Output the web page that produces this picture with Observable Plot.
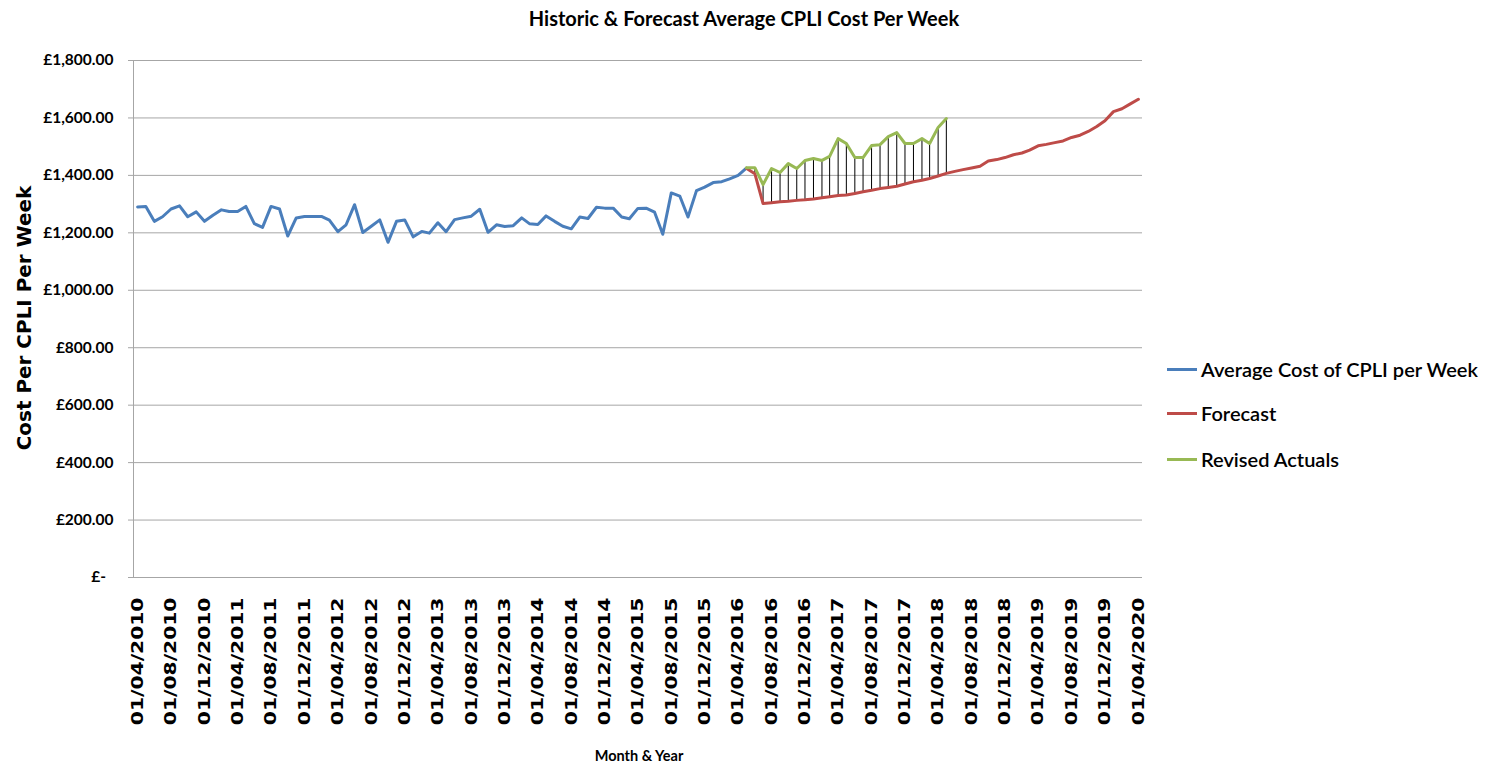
<!DOCTYPE html>
<html>
<head>
<meta charset="utf-8">
<script src="https://cdn.jsdelivr.net/npm/d3@7"></script>
<script src="https://cdn.jsdelivr.net/npm/@observablehq/plot@0.6"></script>
<style>
  html, body { margin: 0; padding: 0; background: #fff; overflow: hidden; }
  #wrap { position: relative; width: 1488px; height: 766px; }
  #chart { position: absolute; left: 0; top: 0; }
  .title { position: absolute; left: 0; top: 0; width: 1488px; line-height: 36px; text-align: center;
           font-family: Lato, sans-serif; font-weight: bold; font-size: 20px; color: #000; }
  .ylab { position: absolute; left: 24px; top: 318px; white-space: nowrap;
          font-family: "DejaVu Sans", sans-serif; font-weight: bold; font-size: 19px; color: #000;
          transform: translate(-50%, -50%) rotate(-90deg) scale(1.05, 1); }
  .xlab { position: absolute; left: 639px; top: 755px; white-space: nowrap;
          font-family: Lato, sans-serif; font-weight: bold; font-size: 14.5px; color: #000;
          transform: translate(-50%, -50%); }
  .leg { position: absolute; left: 1167px; white-space: nowrap; font-family: Lato, sans-serif;
         font-weight: 600; font-size: 20px; color: #000; transform: translateY(-50%); display: flex; align-items: center; }
  .leg span.sw { display: inline-block; width: 30px; height: 3px; margin-right: 4px; }
</style>
</head>
<body>
<div id="wrap">
  <div id="chart"></div>
  <div class="title">Historic &amp; Forecast Average CPLI Cost Per Week</div>
  <div class="ylab">Cost Per CPLI Per Week</div>
  <div class="xlab">Month &amp; Year</div>
  <div id="legend"></div>
</div>
<script>
// ---- data ----
const seriesNames = ["Average Cost of CPLI per Week", "Forecast", "Revised Actuals"];
const seriesColors = ["#4a7ebb", "#be4b48", "#98b954"];

// monthly, starting 01/04/2010
const historicStart = "01/04/2010";
const historic = [
  1290, 1292, 1240, 1256, 1283, 1294, 1256, 1273, 1240, 1261, 1280, 1274,
  1274, 1292, 1232, 1219, 1292, 1283, 1189, 1252, 1257, 1257, 1257, 1244,
  1204, 1228, 1298, 1201, 1223, 1245, 1167, 1240, 1245, 1186, 1205, 1199,
  1235, 1204, 1246, 1252, 1258, 1282, 1202, 1228, 1222, 1225, 1252, 1232,
  1229, 1259, 1240, 1223, 1214, 1255, 1250, 1289, 1286, 1286, 1255, 1249,
  1285, 1286, 1272, 1195, 1339, 1328, 1255, 1347, 1359, 1375, 1378, 1388,
  1400, 1425
];

// monthly, starting 01/05/2016
const forecastStart = "01/05/2016";
const forecast = [
  1425, 1406, 1302, 1305, 1308, 1310, 1313, 1315, 1318, 1322, 1326, 1330,
  1332, 1337, 1343, 1348, 1354, 1358, 1362, 1370, 1378, 1383, 1389, 1398,
  1407, 1414, 1420, 1426, 1432, 1450, 1455, 1462, 1472, 1478, 1488, 1503,
  1508, 1514, 1520, 1532, 1540, 1553, 1570, 1590, 1622, 1632, 1648, 1665
];

// monthly, starting 01/05/2016
const revisedStart = "01/05/2016";
const revised = [
  1427, 1427, 1368, 1424, 1410, 1441, 1424, 1452, 1459, 1452, 1466, 1528,
  1511, 1462, 1462, 1504, 1507, 1535, 1549, 1511, 1511, 1528, 1511, 1567, 1598
];

const xTickLabels = [
  "01/04/2010","01/08/2010","01/12/2010","01/04/2011","01/08/2011","01/12/2011",
  "01/04/2012","01/08/2012","01/12/2012","01/04/2013","01/08/2013","01/12/2013",
  "01/04/2014","01/08/2014","01/12/2014","01/04/2015","01/08/2015","01/12/2015",
  "01/04/2016","01/08/2016","01/12/2016","01/04/2017","01/08/2017","01/12/2017",
  "01/04/2018","01/08/2018","01/12/2018","01/04/2019","01/08/2019","01/12/2019",
  "01/04/2020"
];
const yTicks = [0, 200, 400, 600, 800, 1000, 1200, 1400, 1600, 1800];

// ---- build tables ----
const parse = d3.utcParse("%d/%m/%Y");
const fmt = d3.utcFormat("%d/%m/%Y");
const toRows = (start, vals) => vals.map((v, i) => ({ date: d3.utcMonth.offset(parse(start), i), value: v }));
const histRows = toRows(historicStart, historic);
const foreRows = toRows(forecastStart, forecast);
const revRows = toRows(revisedStart, revised);
const diffRows = revRows.map((r, i) => ({ date: r.date, lo: forecast[i], hi: r.value }));
const tickDates = xTickLabels.map(parse);
const xDomain = [d3.utcDay.offset(tickDates[0], -15), d3.utcDay.offset(tickDates[tickDates.length - 1], 15)];

const grid = "#a6a6a6";
const chart = Plot.plot({
  width: 1488,
  height: 766,
  marginTop: 60,
  marginBottom: 189,
  marginLeft: 133,
  marginRight: 346,
  x: { type: "utc", domain: xDomain },
  y: { domain: [0, 1800] },
  marks: [
    Plot.gridY(yTicks, { stroke: grid, strokeOpacity: 1, strokeWidth: 1 }),
    Plot.ruleX([xDomain[0]], { stroke: grid, strokeWidth: 1 }),
    Plot.axisY(yTicks, {
      tickSize: 5, tickPadding: 15, stroke: grid, fill: "#000",
      tickFormat: d => d === 0 ? "£-\u00a0\u00a0" : "£" + d3.format(",.2f")(d),
      fontFamily: "Lato, sans-serif", fontWeight: "bold", fontSize: 15.5, label: null
    }),
    Plot.axisX(tickDates, {
      tickSize: 0, tickPadding: 20, tickRotate: -90, tickFormat: fmt,
      fontFamily: "DejaVu Sans, sans-serif", fontWeight: "bold", fontSize: 16.5, fill: "#000", label: null
    }),
    Plot.ruleX(diffRows, { x: "date", y1: "lo", y2: "hi", stroke: "#000", strokeWidth: 1 }),
    Plot.line(histRows, { x: "date", y: "value", stroke: seriesColors[0], strokeWidth: 3, strokeLinejoin: "round" }),
    Plot.line(foreRows, { x: "date", y: "value", stroke: seriesColors[1], strokeWidth: 3, strokeLinejoin: "round" }),
    Plot.line(revRows, { x: "date", y: "value", stroke: seriesColors[2], strokeWidth: 3, strokeLinejoin: "round" })
  ]
});
document.getElementById("chart").appendChild(chart);

// stretch rotated x tick labels along their length
d3.select(chart).selectAll('g[aria-label="x-axis tick label"] text').each(function () {
  const t = this.getAttribute("transform") || "";
  this.setAttribute("transform", t + " scale(1.23,1)");
});

// legend
const legTops = [369, 413, 459];
const leg = document.getElementById("legend");
seriesNames.forEach((n, i) => {
  const d = document.createElement("div");
  d.className = "leg";
  d.style.top = legTops[i] + "px";
  d.innerHTML = `<span class="sw" style="background:${seriesColors[i]}"></span>${n}`;
  leg.appendChild(d);
});
</script>
</body>
</html>
